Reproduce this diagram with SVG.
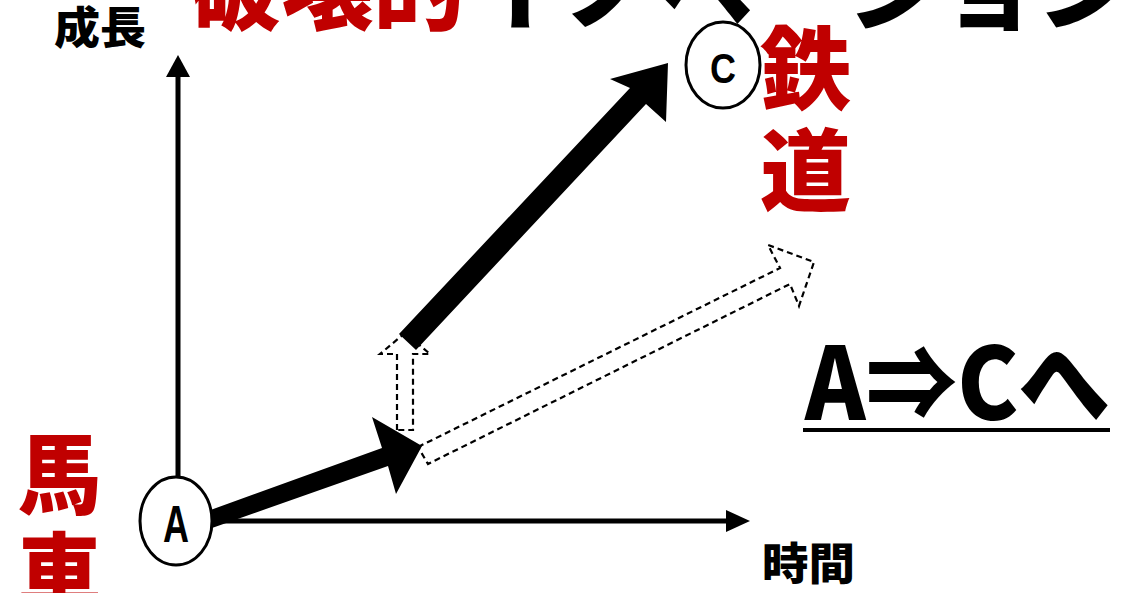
<svg xmlns="http://www.w3.org/2000/svg" width="1132" height="593" viewBox="0 0 1132 593">
<style>
.jp{font-family:"Noto Sans CJK JP","Noto Sans",sans-serif;font-weight:900}
.red{fill:#C00000}
.blk{fill:#000}
.lat{font-family:"Liberation Sans",Arial,sans-serif;font-weight:bold}
.dash{fill:#fff;stroke:#000;stroke-width:2.2;stroke-dasharray:6 4}
</style>
<rect width="1132" height="593" fill="#fff"/>
<g id="title">
<text class="jp red" x="190" y="23" font-size="94" textLength="275" lengthAdjust="spacingAndGlyphs">破壊的</text>
<text class="jp blk" x="468" y="23" font-size="94" textLength="664" lengthAdjust="spacingAndGlyphs">イノベーション</text>
</g>
<g id="axes">
<line x1="178" y1="480" x2="178" y2="72" stroke="#000" stroke-width="5"/>
<polygon points="178,55 166,77 190,77" fill="#000"/>
<line x1="200" y1="521" x2="728" y2="521" stroke="#000" stroke-width="5"/>
<polygon points="750,521 726,510 726,532" fill="#000"/>
<text class="jp blk" x="54" y="44" font-size="44" textLength="92" lengthAdjust="spacingAndGlyphs">成長</text>
<text class="jp blk" x="762" y="580" font-size="44" textLength="93" lengthAdjust="spacingAndGlyphs">時間</text>
</g>
<g id="connectors">
<polygon class="dash" points="418,447 780,268 768,245 814,262 799,306 790,284 428,464"/>
<polygon class="dash" points="397,430 397,354 380,354 405,333 430,354 413,354 413,430"/>
<polygon points="205,512 382,448 372,417 422,446 396,494 388,466 212,528" fill="#000"/>
<polygon points="399,334 630,88 610,79 668,63 666,122 646,104 416,350" fill="#000"/>
</g>
<g id="nodeA">
<ellipse cx="176" cy="521" rx="36" ry="44" fill="#fff" stroke="#000" stroke-width="3"/>
<text class="lat" x="176" y="542" font-size="52" text-anchor="middle" textLength="26" lengthAdjust="spacingAndGlyphs">A</text>
</g>
<g id="nodeC">
<ellipse cx="723" cy="65" rx="37" ry="43" fill="#fff" stroke="#000" stroke-width="3"/>
<text class="lat" x="723" y="83" font-size="42" text-anchor="middle" textLength="26" lengthAdjust="spacingAndGlyphs">C</text>
</g>
<g id="basha">
<text class="jp red" x="18" y="507" font-size="88" textLength="83" lengthAdjust="spacingAndGlyphs">馬</text>
<text class="jp red" x="18" y="606" font-size="88" textLength="83" lengthAdjust="spacingAndGlyphs">車</text>
</g>
<g id="tetsudo">
<text class="jp red" x="760" y="102" font-size="90" textLength="91" lengthAdjust="spacingAndGlyphs">鉄</text>
<text class="jp red" x="760" y="204" font-size="90" textLength="91" lengthAdjust="spacingAndGlyphs">道</text>
</g>
<g id="summary">
<text class="jp blk" x="805" y="420" font-size="100" textLength="305" lengthAdjust="spacingAndGlyphs">A⇒Cへ</text>
<rect x="803" y="428" width="307" height="4" fill="#000"/>
</g>
</svg>
